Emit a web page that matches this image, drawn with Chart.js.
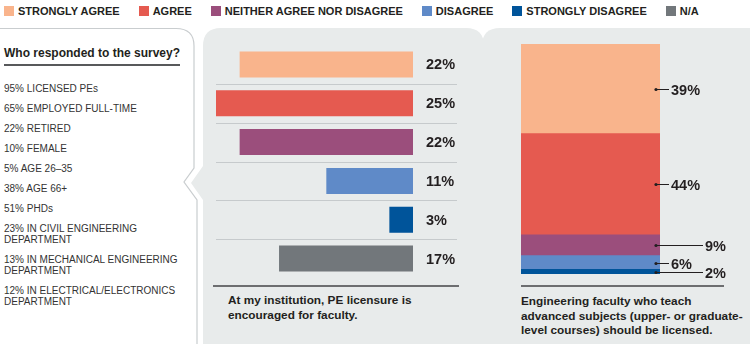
<!DOCTYPE html>
<html>
<head>
<meta charset="utf-8">
<script src="https://cdn.jsdelivr.net/npm/chart.js@4.4.1/dist/chart.umd.min.js"></script>
<style>
  body { margin: 0; width: 750px; height: 344px; overflow: hidden; background: #fff; position: relative;
         font-family: "Liberation Sans", Arial, sans-serif; color: #231f20; }
  svg, canvas { position: absolute; left: 0; top: 0; }
  #legend { position: absolute; left: 4px; top: 5px; display: flex; gap: 19px; font-weight: bold; font-size: 11px; line-height: 12px; white-space: nowrap; }
  #legend span.sw { display: inline-block; width: 10px; height: 10px; margin-right: 4px; vertical-align: -1px; }
  #title { position: absolute; left: 4px; top: 46px; font-weight: bold; font-size: 12px; line-height: 15px; }
  #rule { position: absolute; left: 4px; top: 64px; width: 176px; height: 2px; background: #58595b; }
  #stats { position: absolute; left: 4px; top: 83px; font-size: 10px; line-height: 11px; color: #333; }
  #stats div { margin-bottom: 9px; }
  .caption { position: absolute; font-weight: bold; font-size: 11.8px; line-height: 14.5px; }
</style>
</head>
<body>
<svg width="750" height="344">
  <path d="M203,344 V200 L191,183 L203,166 V46 Q203,28 221,28 H466 Q484,28 484,46 V344 Z" fill="#e8ebeb"/>
  <path d="M482,344 V46 Q482,28 500,28 H750 V344 Z" fill="#e8ebeb"/>
  <path d="M0,28.5 H176 Q194,28.5 194,46 V168 L184,182 L197,200 V344" fill="none" stroke="#c9cdcf" stroke-width="1.2"/>
  <rect x="213" y="285" width="246" height="2" fill="#6d6e70"/>
  <rect x="521" y="285" width="203" height="2" fill="#6d6e70"/>
</svg>
<div id="legend"></div>
<div id="title">Who responded to the survey?</div>
<div id="rule"></div>
<div id="stats"></div>
<div class="caption" style="left:228px;top:293px">At my institution, PE licensure is<br>encouraged for faculty.</div>
<div class="caption" style="left:521px;top:294px">Engineering faculty who teach<br>advanced subjects (upper- or graduate-<br>level courses) should be licensed.</div>
<canvas id="encouragedChart" width="750" height="344"></canvas>
<canvas id="licensedChart" width="750" height="344"></canvas>
<script>
const responseLabels = ['STRONGLY AGREE', 'AGREE', 'NEITHER AGREE NOR DISAGREE', 'DISAGREE', 'STRONGLY DISAGREE', 'N/A'];
const responseColors = ['#f9b48c', '#e55a50', '#9b4e7c', '#5f8ac8', '#00549a', '#72777b'];

// "At my institution, PE licensure is encouraged for faculty." (%)
const encouragedValues = [22, 25, 22, 11, 3, 17];

// "Engineering faculty who teach advanced subjects ... should be licensed." (%)
// strongly agree .. strongly disagree (no N/A)
const licensedValues = [39, 44, 9, 6, 2];

const respondentStats = [
  '95% LICENSED PEs',
  '65% EMPLOYED FULL-TIME',
  '22% RETIRED',
  '10% FEMALE',
  '5% AGE 26–35',
  '38% AGE 66+',
  '51% PHDs',
  '23% IN CIVIL ENGINEERING<br>DEPARTMENT',
  '13% IN MECHANICAL ENGINEERING<br>DEPARTMENT',
  '12% IN ELECTRICAL/ELECTRONICS<br>DEPARTMENT'
];

const labelFont = 'bold 14.5px "Liberation Sans", Arial, sans-serif';

document.getElementById('legend').innerHTML = responseLabels.map((l, i) =>
  `<div><span class="sw" style="background:${responseColors[i]}"></span>${l}</div>`).join('');
document.getElementById('stats').innerHTML = respondentStats.map(s => `<div>${s}</div>`).join('');

// separators + value labels for the horizontal chart
const rowLabels = {
  id: 'rowLabels',
  afterDatasetsDraw(chart) {
    const { ctx, chartArea } = chart;
    const ys = chart.scales.y;
    ctx.save();
    ctx.strokeStyle = '#c6cacc';
    ctx.lineWidth = 1;
    for (let i = 1; i < encouragedValues.length; i++) {
      const y = Math.round((ys.getPixelForValue(i - 1) + ys.getPixelForValue(i)) / 2) + 0.5;
      ctx.beginPath();
      ctx.moveTo(chartArea.left, y);
      ctx.lineTo(chartArea.right + 44, y);
      ctx.stroke();
    }
    ctx.font = labelFont;
    ctx.fillStyle = '#231f20';
    ctx.textBaseline = 'middle';
    chart.getDatasetMeta(0).data.forEach((bar, i) => {
      ctx.fillText(encouragedValues[i] + '%', chartArea.right + 13, bar.y + 1);
    });
    ctx.restore();
  }
};

new Chart(document.getElementById('encouragedChart'), {
  type: 'bar',
  data: {
    labels: responseLabels,
    datasets: [{
      data: encouragedValues,
      backgroundColor: responseColors,
      borderWidth: 0,
      barPercentage: 0.67,
      categoryPercentage: 1
    }]
  },
  options: {
    indexAxis: 'y',
    responsive: false,
    animation: false,
    layout: { padding: { left: 216, right: 337, top: 45, bottom: 66 } },
    plugins: { legend: { display: false }, tooltip: { enabled: false } },
    scales: {
      x: { display: false, reverse: true, min: 0, max: 25 },
      y: { display: false }
    }
  },
  plugins: [rowLabels]
});

// stacked column, bottom to top: strongly disagree .. strongly agree
const stackOrder = [4, 3, 2, 1, 0];
const leaderLong = [false, false, true, false, true]; // by response index

const leaderLabels = {
  id: 'leaderLabels',
  afterDatasetsDraw(chart) {
    const { ctx } = chart;
    ctx.save();
    ctx.font = labelFont;
    ctx.fillStyle = '#231f20';
    ctx.strokeStyle = '#231f20';
    ctx.lineWidth = 1;
    ctx.textBaseline = 'middle';
    chart.data.datasets.forEach((ds, di) => {
      const el = chart.getDatasetMeta(di).data[0];
      const r = stackOrder[di];
      const cy = Math.round((el.y + el.base) / 2) + 0.5;
      const x0 = el.x + el.width / 2 - 4;
      const len = leaderLong[r] ? 47 : 13;
      ctx.beginPath();
      ctx.arc(x0, cy, 1.6, 0, Math.PI * 2);
      ctx.fill();
      ctx.beginPath();
      ctx.moveTo(x0, cy);
      ctx.lineTo(x0 + len, cy);
      ctx.stroke();
      ctx.fillText(licensedValues[r] + '%', x0 + len + 2, cy + 1);
    });
    ctx.restore();
  }
};

new Chart(document.getElementById('licensedChart'), {
  type: 'bar',
  data: {
    labels: [''],
    datasets: stackOrder.map(r => ({
      label: responseLabels[r],
      data: [licensedValues[r]],
      backgroundColor: responseColors[r],
      borderWidth: 0,
      barPercentage: 1,
      categoryPercentage: 1
    }))
  },
  options: {
    responsive: false,
    animation: false,
    layout: { padding: { left: 521, right: 90, top: 44, bottom: 70 } },
    plugins: { legend: { display: false }, tooltip: { enabled: false } },
    scales: {
      x: { display: false, stacked: true },
      y: { display: false, stacked: true, min: 0, max: 100 }
    }
  },
  plugins: [leaderLabels]
});
</script>
</body>
</html>
